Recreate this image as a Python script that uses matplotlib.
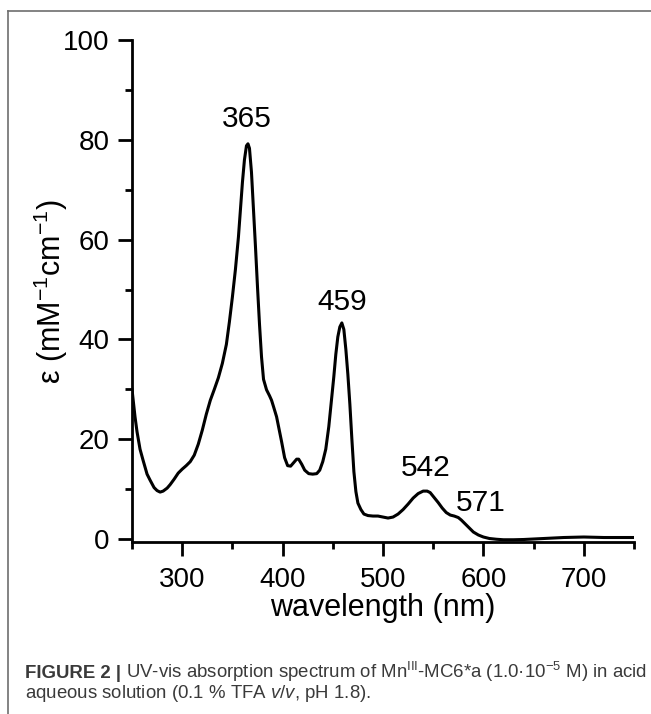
import matplotlib
matplotlib.use("Agg")
import matplotlib.pyplot as plt
from matplotlib.ticker import MultipleLocator
from matplotlib.lines import Line2D
from matplotlib import font_manager

# Data
wavelength = [250, 253, 255, 258, 261, 265, 268, 272, 275, 278, 281, 285, 288, 292, 296,
              300, 304, 308, 312, 316, 320, 324, 328, 332, 336, 340, 344, 347, 350, 353,
              356, 358, 360, 362, 364, 365.5, 367, 369, 371, 373, 375, 377, 379, 381, 384,
              387, 389, 391, 394, 396, 399, 402, 405, 408, 411, 414, 416, 419, 422, 426,
              430, 434, 437, 440, 443, 446, 449, 451, 453, 455, 457, 459, 461, 463, 465,
              467, 469, 471, 473, 475, 478, 481, 485, 490, 495, 500, 505, 510, 515, 520,
              525, 530, 535, 540, 544, 547, 551, 555, 559, 563, 567, 571, 575, 578, 582,
              586, 590, 595, 600, 606, 613, 620, 630, 640, 650, 660, 670, 680, 690, 700,
              710, 720, 730, 740, 750]
epsilon = [30.0, 24.5, 21.5, 18.0, 15.8, 13.0, 11.8, 10.3, 9.7, 9.4, 9.6, 10.2, 10.9, 12.0, 13.2,
           14.0, 14.7, 15.5, 16.8, 19.0, 21.8, 25.0, 27.8, 30.0, 32.3, 35.2, 39.0, 43.5, 48.5, 54.0,
           60.5, 66.0, 71.5, 76.0, 78.8, 79.2, 78.3, 73.5, 66.0, 58.5, 50.5, 43.0, 36.5, 32.0, 29.9,
           28.7, 27.8, 26.5, 24.5, 22.5, 19.5, 16.3, 14.7, 14.6, 15.3, 16.0, 16.0, 15.0, 13.8, 13.1,
           13.0, 13.1, 13.8, 15.5, 18.0, 22.5, 28.5, 32.5, 37.0, 40.5, 42.5, 43.3, 42.0, 38.0, 33.0,
           27.0, 20.0, 13.5, 9.5, 7.2, 5.9, 5.0, 4.7, 4.6, 4.6, 4.4, 4.2, 4.4, 5.0, 5.9,
           7.0, 8.2, 9.1, 9.6, 9.6, 9.3, 8.3, 7.3, 6.2, 5.3, 4.8, 4.6, 4.3, 3.8, 3.0,
           2.2, 1.4, 0.8, 0.4, 0.1, -0.05, -0.15, -0.15, -0.1, 0.0, 0.1, 0.2, 0.3, 0.35, 0.4,
           0.35, 0.3, 0.3, 0.3, 0.3]

peak_labels = ["365", "459", "542", "571"]
peak_x = [364.5, 459, 543, 597.5]
peak_y = [84.2, 47.5, 14.2, 7.2]

caption_1a = "FIGURE 2 |"
caption_1b = "UV-vis absorption spectrum of Mn$^{III}$-MC6*a (1.0\u00b710$^{-5}$ M) in acid"
caption_2 = "aqueous solution (0.1 % TFA $\\mathit{v/v}$, pH 1.8)."

# Fonts
names = {f.name for f in font_manager.fontManager.ttflist}
narrow = "Liberation Sans Narrow" if "Liberation Sans Narrow" in names else "Liberation Sans"
plt.rcParams["font.family"] = ["Liberation Sans", "DejaVu Sans"]
plt.rcParams["mathtext.default"] = "regular"
plt.rcParams["mathtext.fontset"] = "custom"
plt.rcParams["mathtext.rm"] = narrow
plt.rcParams["mathtext.it"] = narrow + ":italic"

W, H = 651, 714
fig = plt.figure(figsize=(W / 100, H / 100), dpi=100)
ax = fig.add_axes([132 / W, 1 - 542 / H, (634 - 132) / W, (542 - 40) / H])

ax.plot(wavelength, epsilon, color="black", lw=2.2, solid_joinstyle="round")

ax.set_xlim(250, 750)
ax.set_ylim(-0.6, 100)
ax.xaxis.set_major_locator(MultipleLocator(100))
ax.xaxis.set_minor_locator(MultipleLocator(50))
ax.yaxis.set_major_locator(MultipleLocator(20))
ax.yaxis.set_minor_locator(MultipleLocator(10))

for s in ["top", "right"]:
    ax.spines[s].set_visible(False)
for s in ["left", "bottom"]:
    ax.spines[s].set_linewidth(2.0)

ax.tick_params(which="major", direction="out", length=10, width=2.0, labelsize=20, pad=6)
ax.tick_params(axis="x", which="major", pad=8)
ax.tick_params(which="minor", direction="out", length=5, width=2.0)

ax.set_xlabel("wavelength (nm)", fontsize=22)
ax.set_ylabel("\u03b5 (mM$^{-1}$cm$^{-1}$)", fontsize=22)
ax.xaxis.set_label_coords(0.5, -0.102)
ax.yaxis.set_label_coords(-0.123, 0.5)

for lab, px, py in zip(peak_labels, peak_x, peak_y):
    ax.text(px, py, lab, fontsize=21.5, ha="center", va="center")

# figure frame
fig.add_artist(Line2D([8 / W, 1], [1 - 11 / H, 1 - 11 / H], transform=fig.transFigure,
                      color="#6e6e6e", lw=1.2))
fig.add_artist(Line2D([8 / W, 8 / W], [0, 1 - 11 / H], transform=fig.transFigure,
                      color="#6e6e6e", lw=1.2))

# caption
cap_color = "#3a3a3a"
cap_size = 13.4
t1 = fig.text(25 / W, 1 - 678 / H, caption_1a, family=narrow, weight="bold", fontsize=cap_size,
              color=cap_color, va="baseline")
fig.canvas.draw()
x_end = t1.get_window_extent().x1
fig.text((x_end + 5) / W, 1 - 678 / H, caption_1b, family=narrow, fontsize=cap_size,
         color=cap_color, va="baseline")
fig.text(25 / W, 1 - 698 / H, caption_2, family=narrow, fontsize=cap_size,
         color=cap_color, va="baseline")

fig.savefig("out.png", dpi=100)
